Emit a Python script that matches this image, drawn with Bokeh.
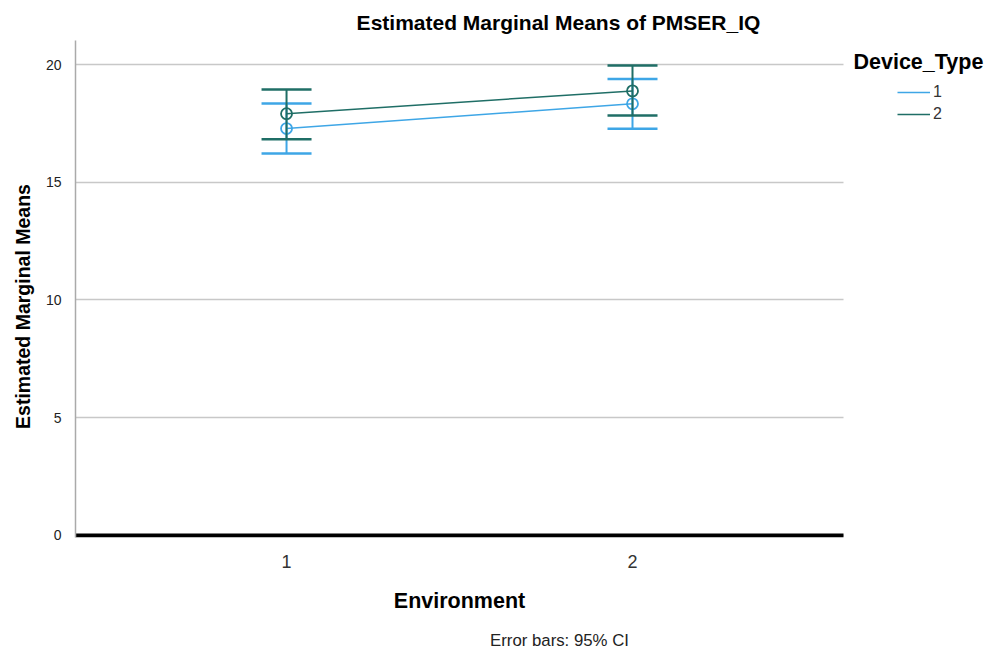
import math
from bokeh.plotting import figure
from bokeh.models import Label, Legend, LegendItem, FixedTicker, Range1d, Grid
from bokeh.embed import file_html
from bokeh.resources import INLINE

# ---- data ----
environment = [1, 2]
environment_labels = ["1", "2"]
device_types = ["1", "2"]
type1_mean = [17.28, 18.33]
type1_lower = [16.22, 17.27]
type1_upper = [18.34, 19.39]
type2_mean = [17.91, 18.88]
type2_lower = [16.83, 17.83]
type2_upper = [18.94, 19.96]
y_ticks = [0, 5, 10, 15, 20]

BLUE = "#3ea6e6"
GREEN = "#1f6e66"
FONT = "Liberation Sans"

X_LO, X_HI = 0.39, 2.61          # visible plot-area extent
X_FRAME_HI = 3.029               # frame runs on to the canvas edge (legend area)

p = figure(width=988, height=649, output_backend="svg", toolbar_location=None,
           x_range=Range1d(X_LO, X_FRAME_HI), y_range=Range1d(-0.09, 21.02),
           min_border_left=75, min_border_right=0, min_border_top=40, min_border_bottom=112)
p.outline_line_color = None

# axes
p.xaxis.ticker = FixedTicker(ticks=environment)
p.xaxis.major_label_overrides = {e: l for e, l in zip(environment, environment_labels)}
p.xaxis.axis_line_color = None
p.xaxis.major_tick_line_color = None
p.xaxis.minor_tick_line_color = None
p.xaxis.major_label_text_font = FONT
p.xaxis.major_label_text_font_size = "18px"
p.xaxis.major_label_text_color = "#333333"
p.xaxis.major_label_standoff = 11

p.yaxis.ticker = FixedTicker(ticks=y_ticks)
p.yaxis.axis_line_color = "#aaaaaa"
p.yaxis.axis_line_width = 1.5
p.yaxis.major_tick_line_color = None
p.yaxis.minor_tick_line_color = None
p.yaxis.major_label_text_font = FONT
p.yaxis.major_label_text_font_size = "14px"
p.yaxis.major_label_text_color = "#222222"
p.yaxis.major_label_standoff = 8

p.xgrid.grid_line_color = None
grid = p.ygrid[0]
grid.grid_line_color = "#c8c8c8"
grid.grid_line_width = 1.5
zero = Grid(dimension=1, ticker=FixedTicker(ticks=[0]), grid_line_color="black", grid_line_width=4)
p.add_layout(zero)
if "cross_bounds" in grid.properties():
    grid.cross_bounds = (X_LO, X_HI)
    zero.cross_bounds = (X_LO, X_HI)
else:
    grid.grid_line_color = None
    zero.grid_line_color = None
    n = len(y_ticks)
    p.segment(x0=[X_LO] * n, x1=[X_HI] * n, y0=y_ticks, y1=y_ticks, line_color="#c8c8c8", line_width=1.5)
    p.segment(x0=[X_LO], x1=[X_HI], y0=[0], y1=[0], line_color="black", line_width=4)

series = [
    (type1_mean, type1_lower, type1_upper, BLUE),
    (type2_mean, type2_lower, type2_upper, GREEN),
]
line_renderers = []
for mean, lo, hi, col in series:
    p.segment(x0=environment, y0=lo, x1=environment, y1=hi, line_color=col, line_width=2)
    p.scatter(x=environment, y=lo, marker="dash", size=50, line_color=col, line_width=2.5)
    p.scatter(x=environment, y=hi, marker="dash", size=50, line_color=col, line_width=2.5)
    r = p.line(x=environment, y=mean, line_color=col, line_width=1.5)
    line_renderers.append(r)
    p.scatter(x=environment, y=mean, marker="circle", size=11, fill_color=None,
              line_color=col, line_width=1.8)

legend = Legend(items=[LegendItem(label=d, renderers=[r]) for d, r in zip(device_types, line_renderers)],
                location=(822, 413), padding=0, margin=0, spacing=2,
                glyph_width=33, glyph_height=20, label_height=20, label_standoff=3,
                label_text_font=FONT, label_text_font_size="16px", label_text_color="#333333",
                border_line_color=None, background_fill_alpha=0)
p.add_layout(legend)

def lab(text, x, y, size, panel, bold=True, align="center", angle=0, color="black"):
    p.add_layout(Label(x=x, y=y, x_units="canvas", y_units="canvas", text=text,
                       text_font=FONT, text_font_size=size,
                       text_font_style="bold" if bold else "normal",
                       text_align=align, text_baseline="middle", angle=angle,
                       text_color=color), panel)

lab("Estimated Marginal Means of PMSER_IQ", 558, 22, "21px", "above")
lab("Device_Type", 853, 61, "21.5px", "center", align="left")
lab("Estimated Marginal Means", 22, 306, "19.5px", "left", angle=math.pi / 2)
lab("Environment", 459, 600, "21.5px", "below")
lab("Error bars: 95% CI", 559, 640, "16.8px", "below", bold=False, color="#222222")

open("out.html", "w").write(file_html(p, INLINE))
